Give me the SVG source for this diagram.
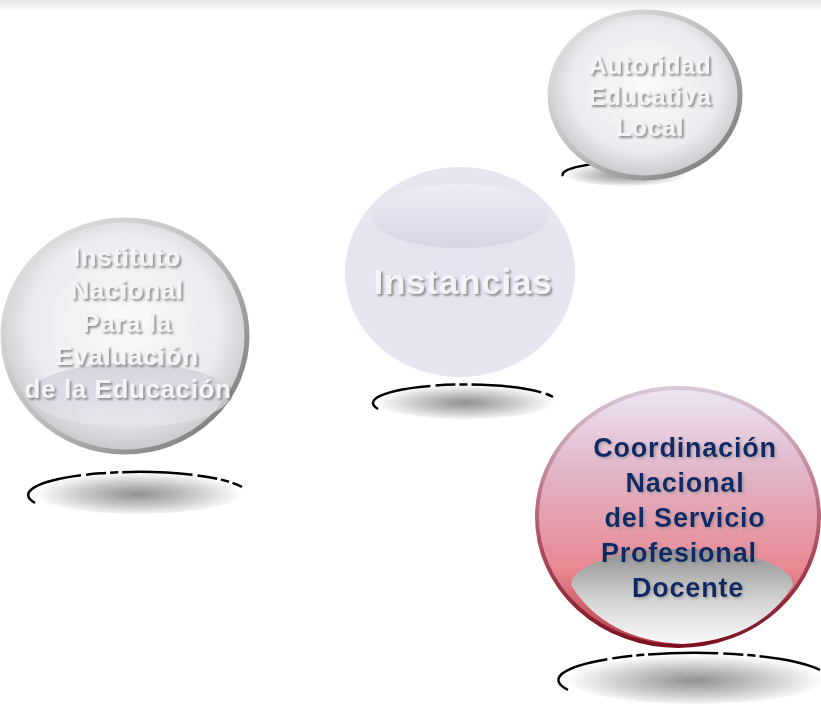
<svg xmlns="http://www.w3.org/2000/svg" width="821" height="707" viewBox="0 0 821 707">
<defs>
<style>
.w{font-family:"Liberation Sans",Arial,sans-serif;font-weight:bold;fill:#f4f4f8;text-anchor:middle;filter:url(#ts)}
.b{font-family:"Liberation Sans",Arial,sans-serif;font-weight:bold;fill:#0e2a66;text-anchor:middle;font-size:27px;letter-spacing:0.8px;filter:url(#ts2)}
.sh{fill:url(#shg)}
.shs{fill:none;stroke:#000;stroke-width:2.5;stroke-dasharray:70 5 20 4 8 4}
</style>
<filter id="ts" x="-10%" y="-30%" width="120%" height="160%"><feDropShadow dx="2" dy="2" stdDeviation="1.2" flood-color="#777" flood-opacity="0.8"/></filter>
<filter id="ts2" x="-10%" y="-30%" width="120%" height="160%"><feDropShadow dx="1.5" dy="1.5" stdDeviation="1.5" flood-color="#888" flood-opacity="0.7"/></filter>
<radialGradient id="glass" cx="50%" cy="45%" r="55%">
<stop offset="0" stop-color="#fafafc"/><stop offset="0.7" stop-color="#ececf0"/><stop offset="1" stop-color="#c8c8cc"/>
</radialGradient>
<linearGradient id="ring" x1="0" y1="0" x2="1" y2="1">
<stop offset="0" stop-color="#e8e8e8"/><stop offset="0.5" stop-color="#bdbdbd"/><stop offset="1" stop-color="#6f6f6f"/>
</linearGradient>
<radialGradient id="shg" cx="50%" cy="55%" r="50%">
<stop offset="0" stop-color="#909090"/><stop offset="0.6" stop-color="#d0d0d0"/><stop offset="1" stop-color="#fff"/>
</radialGradient>
<radialGradient id="lav" cx="50%" cy="50%" r="55%">
<stop offset="0" stop-color="#e3e3ef"/><stop offset="1" stop-color="#e6e6f0"/>
</radialGradient>
<linearGradient id="lavhl" x1="0" y1="0" x2="0" y2="1">
<stop offset="0" stop-color="#ededf5"/><stop offset="1" stop-color="#d5d5e5"/>
</linearGradient>
<linearGradient id="pink" x1="0" y1="0" x2="0" y2="1">
<stop offset="0" stop-color="#ece6f2"/><stop offset="0.3" stop-color="#e2b8cc"/><stop offset="0.7" stop-color="#e88892"/><stop offset="1" stop-color="#b43a46"/>
</linearGradient>
<linearGradient id="pinkring" x1="0" y1="0" x2="0" y2="1">
<stop offset="0" stop-color="#d8c8d8"/><stop offset="0.6" stop-color="#b05060"/><stop offset="1" stop-color="#7a1020"/>
</linearGradient>
<linearGradient id="grayhl" x1="0" y1="0" x2="0" y2="1">
<stop offset="0" stop-color="#8e8e8e"/><stop offset="0.5" stop-color="#cfcfcf"/><stop offset="1" stop-color="#fbfbfb"/>
</linearGradient>
<linearGradient id="glasshl" x1="0" y1="0" x2="0" y2="1">
<stop offset="0" stop-color="#c8c8d4"/><stop offset="1" stop-color="#e6e6ee"/>
</linearGradient>
<linearGradient id="topband" x1="0" y1="0" x2="0" y2="1">
<stop offset="0" stop-color="#e4e4e4"/><stop offset="1" stop-color="#fff"/>
</linearGradient>
</defs>
<rect width="821" height="707" fill="#fff"/>
<rect width="821" height="12" fill="url(#topband)"/>

<g id="autoridad">
<ellipse class="sh" cx="625" cy="174" rx="62" ry="12"/>
<path class="shs" d="M563,176 A62,12 0 0 1 640,163"/>
<ellipse cx="645" cy="95" rx="95" ry="83" fill="url(#glass)" stroke="url(#ring)" stroke-width="5"/>
<text class="w" font-size="25" letter-spacing="0.5"><tspan x="650" y="74">Autoridad</tspan><tspan x="650" y="105">Educativa</tspan><tspan x="650" y="136">Local</tspan></text>
</g>

<g id="instituto">
<ellipse class="sh" cx="138" cy="492" rx="105" ry="22"/>
<path class="shs" d="M35,503 A105,22 0 0 1 242,487"/>
<ellipse cx="125" cy="336" rx="122" ry="116" fill="url(#glass)" stroke="url(#ring)" stroke-width="5"/>
<ellipse cx="130" cy="395" rx="100" ry="32" fill="url(#glasshl)" opacity="0.7"/>
<text class="w" font-size="26" letter-spacing="0.6"><tspan x="127" y="266">Instituto</tspan><tspan x="127" y="299">Nacional</tspan><tspan x="127" y="332">Para la</tspan><tspan x="127" y="365">Evaluación</tspan><tspan x="128" y="398">de la Educación</tspan></text>
</g>

<g id="instancias">
<ellipse class="sh" cx="465" cy="401" rx="90" ry="18"/>
<path class="shs" d="M378,409 A90,18 0 0 1 553,397"/>
<ellipse cx="460" cy="272" rx="115" ry="105" fill="url(#lav)"/>
<ellipse cx="460" cy="216" rx="88" ry="32" fill="url(#lavhl)"/>
<text class="w" font-size="35" letter-spacing="0.8" x="463" y="294">Instancias</text>
</g>

<g id="coordinacion">
<ellipse class="sh" cx="695" cy="678" rx="130" ry="26"/>
<path class="shs" d="M568,690 A130,26 0 0 1 820,670"/>
<ellipse cx="678" cy="517" rx="141" ry="129" fill="url(#pink)" stroke="url(#pinkring)" stroke-width="4"/>
<path d="M571,585 A111,36 0 0 1 793,585 Q760,640 682,644 Q605,640 571,585 Z" fill="url(#grayhl)"/>
<text class="b"><tspan x="685" y="457">Coordinación</tspan><tspan x="685" y="492">Nacional</tspan><tspan x="685" y="527">del Servicio</tspan><tspan x="683" y="562">Profesional </tspan><tspan x="688" y="597">Docente</tspan></text>
</g>
</svg>
